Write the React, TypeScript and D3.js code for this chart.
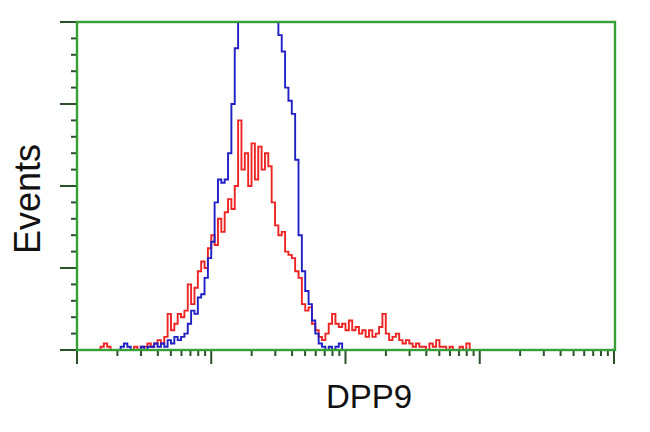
import React from "react";
import * as d3 from "d3";

// Histogram bins: log10 start and bin width (decades)
const binStart = 0.15;
const binStep = 0.025;

// Red series counts (isotype/sample) per bin
const redCounts = [
  0, 1, 2, 1, 0, 0, 0, 0, 0, 0, 0, 1, 0, 1, 1, 2, 1, 2, 3, 2,
  4, 11, 6, 8, 11, 10, 12, 20, 14, 19, 24, 27, 25, 31, 35, 32, 40, 36, 42, 46,
  43, 50, 70, 55, 60, 50, 63, 52, 62, 55, 60, 56, 45, 38, 35, 36, 30, 29, 28, 24,
  22, 14, 12, 13, 8, 6, 4, 3, 5, 8, 11, 8, 7, 8, 6, 9, 6, 7, 5, 6,
  4, 6, 4, 5, 7, 11, 5, 3, 4, 5, 3, 2, 3, 2, 1, 2, 1, 1, 0, 2,
  1, 3, 1, 1, 0, 1, 0, 0, 1, 0, 2, 0,
];

// Blue series counts per bin
const blueCounts = [
  0, 0, 0, 0, 0, 0, 0, 1, 2, 1, 0, 0, 0, 1, 0, 1, 1, 2, 1, 2,
  1, 3, 2, 4, 3, 4, 5, 8, 12, 11, 16, 17, 22, 28, 33, 45, 52, 51, 52, 60,
  75, 92, 108, 125, 135, 140, 145, 150, 145, 140, 135, 125, 115, 102, 96, 91, 80, 76, 72, 58,
  35, 24, 18, 14, 9, 5, 2, 1, 0, 1, 0, 1, 2, 0,
];

const yTicksMajor = [0, 25, 50, 75, 100];
const xDecades = [1, 10, 100, 1000, 10000];

const W = 650;
const H = 432;
const left = 77;
const right = 615;
const top = 22;
const bottom = 350;

export default function App() {
  const x = d3.scaleLog().domain([1, 10000]).range([left, right - 1]);
  const y = d3.scaleLinear().domain([0, 100]).range([bottom, top]);

  const toPts = (counts: number[]) => {
    const pts: [number, number][] = counts.map((c, i) => [
      x(Math.pow(10, binStart + i * binStep)),
      y(c),
    ]);
    const last = counts.length;
    pts.push([x(Math.pow(10, binStart + last * binStep)), y(counts[last - 1])]);
    return pts;
  };
  const line = d3.line().curve(d3.curveStepAfter);

  const yMinor = d3.range(0, 101, 5).filter((v) => !yTicksMajor.includes(v));
  const xMinor: number[] = [];
  for (let d = 0; d < 4; d++) {
    for (let k = 2; k <= 9; k++) xMinor.push(k * Math.pow(10, d));
  }

  const frame = "#36a036";
  const tickC = "#2c4f2c";

  return (
    <svg
      width={W}
      height={H}
      style={{ position: "absolute", left: 0, top: 0, background: "#fff" }}
    >
      <defs>
        <clipPath id="plot">
          <rect x={left} y={top} width={right - left} height={bottom - top} />
        </clipPath>
      </defs>
      <g clipPath="url(#plot)" fill="none" strokeWidth={1.9}>
        <path d={line(toPts(redCounts)) || ""} stroke="#ee2424" />
        <path d={line(toPts(blueCounts)) || ""} stroke="#2020c4" />
      </g>
      {/* y ticks */}
      {yTicksMajor.map((v) => (
        <line key={"ym" + v} x1={left - 17} x2={left} y1={y(v)} y2={y(v)} stroke={tickC} strokeWidth={2} />
      ))}
      {yMinor.map((v) => (
        <line key={"yn" + v} x1={left - 6} x2={left} y1={y(v)} y2={y(v)} stroke={tickC} strokeWidth={2} />
      ))}
      {/* x ticks */}
      {xDecades.map((v) => (
        <line key={"xm" + v} x1={x(v)} x2={x(v)} y1={bottom} y2={bottom + 14} stroke={tickC} strokeWidth={2} />
      ))}
      {xMinor.map((v) => (
        <line key={"xn" + v} x1={x(v)} x2={x(v)} y1={bottom} y2={bottom + 6} stroke={tickC} strokeWidth={2} />
      ))}
      {/* frame */}
      <rect x={left} y={top} width={right - left} height={bottom - top} fill="none" stroke={frame} strokeWidth={2.4} />
      <text
        x={0}
        y={0}
        transform={`translate(40,199) rotate(-90)`}
        textAnchor="middle"
        fontFamily="Liberation Sans, Arial, sans-serif"
        fontSize={36}
        fill="#111"
      >
        Events
      </text>
      <text
        x={369}
        y={408}
        textAnchor="middle"
        fontFamily="Liberation Sans, Arial, sans-serif"
        fontSize={33}
        fill="#111"
      >
        DPP9
      </text>
    </svg>
  );
}
